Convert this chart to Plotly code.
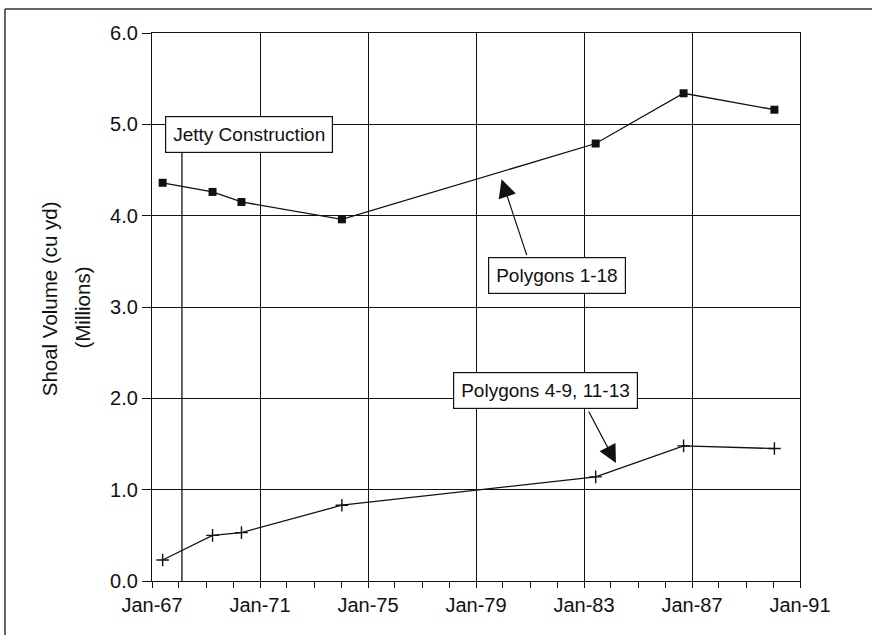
import plotly.graph_objects as go

# ---- data ----
SURVEY_DATES = ["1967-05-25", "1969-03-30", "1970-04-25", "1974-01-13",
                "1983-06-08", "1986-09-09", "1990-01-20"]
POLY_1_18 = [4.36, 4.26, 4.15, 3.96, 4.79, 5.34, 5.16]
POLY_4_9_11_13 = [0.23, 0.50, 0.53, 0.83, 1.14, 1.48, 1.45]

X_RANGE = ["1967-01-01", "1991-01-01"]
Y_RANGE = [0, 6]
Y_TICKS = [0, 1, 2, 3, 4, 5, 6]

JETTY_DATE = "1968-02-10"
JETTY_TOP = 4.69

# label boxes: text, x, y
LABEL_TEXTS = ["Jetty Construction", "Polygons 1-18", "Polygons 4-9, 11-13"]
LABEL_X = ["1970-08-10", "1982-01-01", "1981-08-04"]
LABEL_Y = [4.89, 3.345, 2.086]

# arrows: tail -> tip
ARROW_TAIL_X = ["1980-11-24", "1983-02-23"]
ARROW_TAIL_Y = [3.552, 1.872]
ARROW_TIP_X = ["1979-12-13", "1984-03-08"]
ARROW_TIP_Y = [4.398, 1.292]

Y_TITLE_LINES = ["Shoal Volume (cu yd)", "(Millions)"]

FONT = "Arial, 'Liberation Sans', Helvetica, sans-serif"
INK = "#111111"

fig = go.Figure()

fig.add_trace(go.Scatter(
    x=SURVEY_DATES, y=POLY_1_18, mode="lines+markers",
    line=dict(color=INK, width=1.3),
    marker=dict(symbol="square", size=8, color=INK),
    showlegend=False, cliponaxis=False))

fig.add_trace(go.Scatter(
    x=SURVEY_DATES, y=POLY_4_9_11_13, mode="lines+markers",
    line=dict(color=INK, width=1.3),
    marker=dict(symbol="cross-thin", size=9, color=INK,
                line=dict(color=INK, width=1.4)),
    showlegend=False, cliponaxis=False))

# jetty construction vertical line
fig.add_shape(type="line", xref="x", yref="y",
              x0=JETTY_DATE, x1=JETTY_DATE, y0=Y_RANGE[0], y1=JETTY_TOP,
              line=dict(color=INK, width=1.3))

# label boxes
for t, x, y in zip(LABEL_TEXTS, LABEL_X, LABEL_Y):
    fig.add_annotation(x=x, y=y, xref="x", yref="y", text=t, showarrow=False,
                       font=dict(family=FONT, size=19, color=INK),
                       bgcolor="white", bordercolor=INK, borderwidth=1.2,
                       borderpad=7)

# arrows
for tx, ty, hx, hy in zip(ARROW_TAIL_X, ARROW_TAIL_Y, ARROW_TIP_X, ARROW_TIP_Y):
    fig.add_annotation(x=hx, y=hy, xref="x", yref="y",
                       ax=tx, ay=ty, axref="x", ayref="y",
                       text="", showarrow=True, arrowhead=2,
                       arrowsize=3.0, arrowwidth=1.2, arrowcolor=INK,
                       standoff=0, startstandoff=0)

# y-axis title as two rotated lines
for t, px, py in zip(Y_TITLE_LINES, [-0.157, -0.1065], [0.5146, 0.499]):
    fig.add_annotation(x=px, y=py, xref="paper", yref="paper", text=t,
                       textangle=-90, showarrow=False,
                       xanchor="center", yanchor="middle",
                       font=dict(family=FONT, size=20.5, color=INK))

# outer frame (left & top edges visible in reference)
fig.add_shape(type="line", xref="paper", yref="paper",
              x0=-0.2269, x1=-0.2269, y0=-0.2, y1=1.0438,
              line=dict(color="#333333", width=1.5))
fig.add_shape(type="line", xref="paper", yref="paper",
              x0=-0.2269, x1=1.2, y0=1.0438, y1=1.0438,
              line=dict(color="#333333", width=1.5))

fig.update_xaxes(
    type="date", range=X_RANGE, dtick="M48", tick0="1967-01-01",
    tickformat="%b-%y", ticks="outside", ticklen=6, tickwidth=1.2,
    tickcolor=INK, showgrid=True, gridcolor=INK, gridwidth=1,
    showline=True, linecolor=INK, linewidth=1.3, mirror=True,
    minor=dict(dtick="M12", tick0="1967-01-01", ticks="outside",
               ticklen=6, tickwidth=1.2, tickcolor=INK, showgrid=False),
    tickfont=dict(family=FONT, size=20, color=INK), zeroline=False)

fig.update_yaxes(
    range=Y_RANGE, tickvals=Y_TICKS, tickformat=".1f",
    ticks="outside", ticklen=9, tickwidth=1.2, tickcolor=INK,
    showgrid=True, gridcolor=INK, gridwidth=1,
    showline=True, linecolor=INK, linewidth=1.3, mirror=True,
    tickfont=dict(family=FONT, size=20, color=INK), zeroline=False)

fig.update_layout(
    width=872, height=635,
    margin=dict(l=152, r=72, t=33, b=54),
    paper_bgcolor="white", plot_bgcolor="white",
    font=dict(family=FONT, color=INK),
    showlegend=False)

fig.write_html("out.html",
               config={"displayModeBar": False},
               post_script="document.body.style.margin='0px';"
                           "document.body.style.overflow='hidden';")
